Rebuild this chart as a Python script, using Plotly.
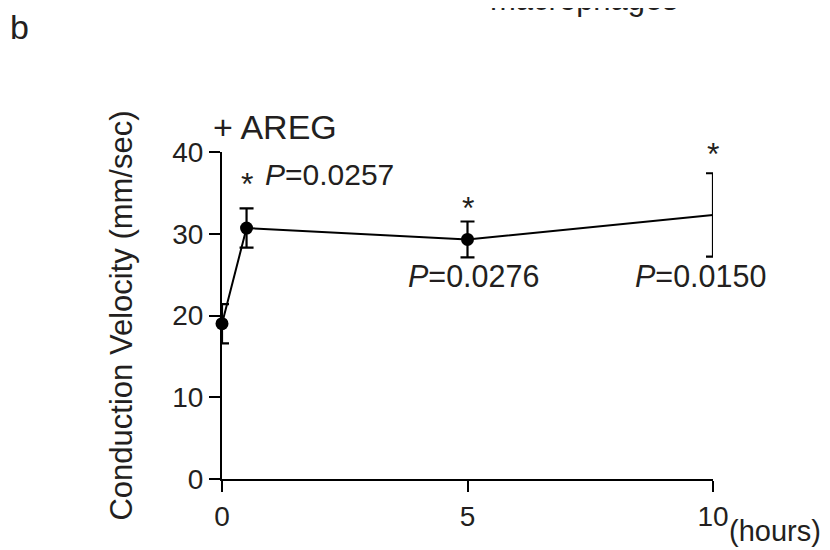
import plotly.graph_objects as go

# data
hours = [0, 0.5, 5, 10]
velocity = [19.0, 30.7, 29.3, 32.3]
sem = [2.4, 2.4, 2.2, 5.1]
marker_sizes = [13, 13, 13, 0]
x_ticks = [0, 5, 10]
y_ticks = [0, 10, 20, 30, 40]
p_labels = ["<i>P</i>=0.0257", "<i>P</i>=0.0276", "<i>P</i>=0.0150"]

W, H = 830, 550
OFF = 8  # page body offset
# target plot-area edges on screen
X0, X1, Y0, Y1 = 222, 713, 479, 152
L = X0 - OFF
R = W - (X1 - OFF)
T = Y1 - OFF
B = H - (Y0 - OFF)
FONT = "Liberation Sans, Arial, Helvetica, sans-serif"
BLACK = "#231f20"


def sx(px):
    return (px - OFF - L) / (W - L - R)


def sy(py):
    return (H - B - (py - OFF)) / (H - T - B)


fig = go.Figure()
fig.add_trace(go.Scatter(
    x=hours, y=velocity,
    mode="lines+markers",
    line=dict(color="black", width=2),
    marker=dict(color="black", size=marker_sizes, opacity=1,
                line=dict(width=0, color="black")),
    error_y=dict(type="data", array=sem, visible=True, color="black",
                 thickness=2.2, width=7),
    cliponaxis=False,
    showlegend=False,
))

ann = []
# P value labels
ann.append(dict(x=0.83, y=37.2, xref="x", yref="y", text=p_labels[0],
                xanchor="left", yanchor="middle", showarrow=False,
                font=dict(size=30, color=BLACK, family=FONT)))
ann.append(dict(x=5.13, y=24.85, xref="x", yref="y", text=p_labels[1],
                xanchor="center", yanchor="middle", showarrow=False,
                font=dict(size=30.5, color=BLACK, family=FONT)))
ann.append(dict(x=9.75, y=24.85, xref="x", yref="y", text=p_labels[2],
                xanchor="center", yanchor="middle", showarrow=False,
                font=dict(size=30.5, color=BLACK, family=FONT)))
# asterisks
for xx, yy in [(0.5, 36.1), (5, 33.1), (9.99, 39.75)]:
    ann.append(dict(x=xx, y=yy, xref="x", yref="y", text="*",
                    xanchor="center", yanchor="middle", showarrow=False,
                    font=dict(size=32, color=BLACK, family=FONT)))
# + AREG
ann.append(dict(x=sx(211), y=sy(127), xref="paper", yref="paper", text="+ AREG",
                xanchor="left", yanchor="middle", showarrow=False,
                font=dict(size=34, color=BLACK, family=FONT)))
# (hours)
ann.append(dict(x=sx(775), y=sy(531), xref="paper", yref="paper", text="(hours)",
                xanchor="center", yanchor="middle", showarrow=False,
                font=dict(size=29, color=BLACK, family=FONT)))
# panel letter
ann.append(dict(x=sx(19.5), y=sy(27), xref="paper", yref="paper",
                text="b", xanchor="center", yanchor="middle", showarrow=False,
                font=dict(size=34, color=BLACK, family=FONT)))
# header text cut by the top edge
ann.append(dict(x=sx(584), y=sy(19), xref="paper", yref="paper",
                text="macrophages", xanchor="center", yanchor="bottom", showarrow=False,
                font=dict(size=31, color=BLACK, family=FONT)))

fig.update_layout(
    width=W, height=H,
    margin=dict(l=L, r=R, t=T, b=B, pad=0, autoexpand=False),
    paper_bgcolor="white", plot_bgcolor="white",
    font=dict(family=FONT, color=BLACK),
    annotations=ann,
    xaxis=dict(range=[0, 10], tickvals=x_ticks, ticks="outside", ticklen=11,
               tickwidth=2, tickcolor="black", showline=True, linecolor="black",
               linewidth=2.2, showgrid=False, zeroline=False, automargin=False,
               tickfont=dict(size=28, color=BLACK, family=FONT)),
    yaxis=dict(range=[0, 40], tickvals=y_ticks, ticks="outside", ticklen=11,
               tickwidth=2, tickcolor="black", showline=True, linecolor="black",
               linewidth=2.2, showgrid=False, zeroline=False, automargin=False,
               tickfont=dict(size=28, color=BLACK, family=FONT),
               title=dict(text="Conduction Velocity (mm/sec)", standoff=30,
                          font=dict(size=31, color=BLACK, family=FONT))),
)

fig.write_html("out.html")
